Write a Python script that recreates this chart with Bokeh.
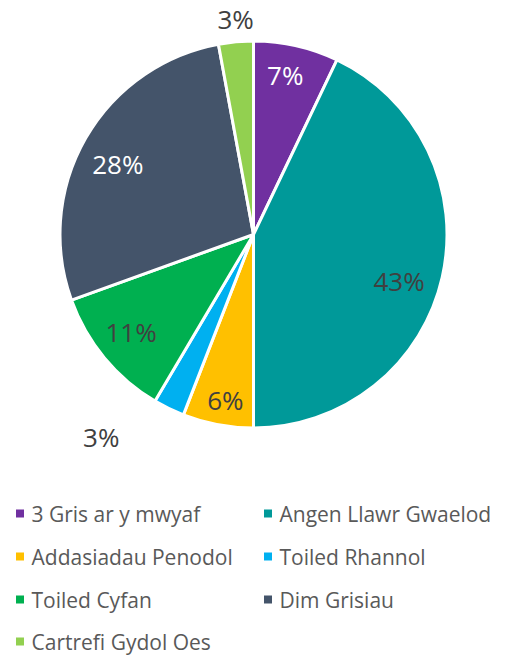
import math
from bokeh.plotting import figure
from bokeh.models import Range1d, ColumnDataSource
from bokeh.core.properties import value
from bokeh.embed import file_html
from bokeh.resources import INLINE

categories = ["3 Gris ar y mwyaf", "Angen Llawr Gwaelod", "Addasiadau Penodol",
              "Toiled Rhannol", "Toiled Cyfan", "Dim Grisiau", "Cartrefi Gydol Oes"]
shares = [7.1, 42.9, 5.9, 2.6, 11.0, 27.6, 2.9]
colors = ["#7030A0", "#009999", "#FFC000", "#00B0F0", "#00B050", "#44546A", "#92D050"]

FONT = "Open Sans"
W, H = 507, 655
p = figure(width=W, height=H, output_backend="svg", toolbar_location=None,
           x_range=Range1d(0, W), y_range=Range1d(-H, 0),
           min_border=0)
p.axis.visible = False
p.grid.visible = False
p.outline_line_color = None
p.background_fill_color = "white"

cx, cy, R = 253, -234, 193.5
total = sum(shares)
starts, ends, mids = [], [], []
acc = 0.0
for s in shares:
    a0 = acc / total
    acc += s
    a1 = acc / total
    # clockwise from 12 o'clock
    starts.append(math.pi / 2 - 2 * math.pi * a1)
    ends.append(math.pi / 2 - 2 * math.pi * a0)
    mids.append((a0 + a1) / 2)

src = ColumnDataSource(dict(start=starts, end=ends, color=colors))
p.wedge(x=cx, y=cy, radius=R, start_angle="start", end_angle="end",
        direction="anticlock", fill_color="color", line_color="white",
        line_width=3, source=src)

# data labels
label_r = [0.84, 0.79, 0.87, 1.31, 0.81, 0.79, 1.12]
label_shift = [-1.5, 5.0, -1.0, 11.0, 1.0, -2.5, 0.5]  # degrees
label_col = ["white", "#404040", "#404040", "#404040", "#404040", "white", "#404040"]
lx, ly, lt = [], [], []
for i, s in enumerate(shares):
    ang = mids[i] * 360 + label_shift[i]
    th = math.radians(ang)
    lx.append(cx + label_r[i] * R * math.sin(th))
    ly.append(cy + label_r[i] * R * math.cos(th))
    lt.append(f"{round(s)}%")
p.text(x=lx, y=ly, text=lt, text_color=label_col, text_font=value(FONT),
       text_font_size="26px", text_align="center", text_baseline="middle")

# legend
col_x = [19.5, 267.5]
row_y = [-513, -556, -599, -641]
mx, my, tx, ty = [], [], [], []
for i in range(len(categories)):
    c, r = i % 2, i // 2
    mx.append(col_x[c]); my.append(row_y[r])
    tx.append(col_x[c] + 11.5); ty.append(row_y[r])
p.rect(x=mx, y=my, width=8, height=8, fill_color=colors, line_color=None)
p.text(x=tx, y=ty, text=categories, text_color="#595959", text_font=value(FONT),
       text_font_size="21px", text_align="left", text_baseline="middle")

open("out.html", "w").write(file_html(p, INLINE))
